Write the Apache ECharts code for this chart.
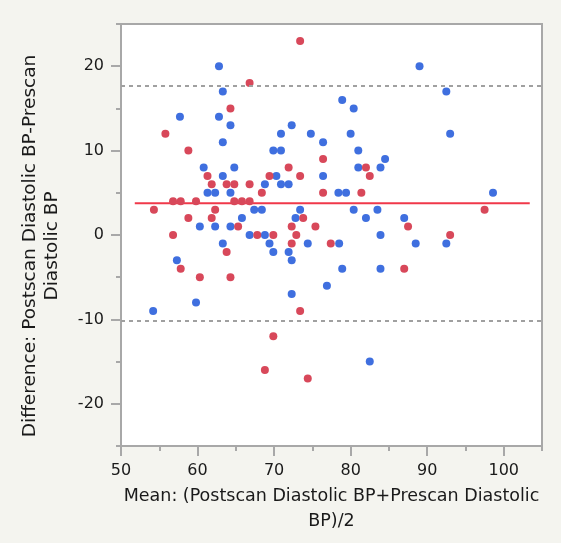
<!DOCTYPE html>
<html>
<head>
<meta charset="utf-8">
<script src="https://cdn.jsdelivr.net/npm/echarts@6/dist/echarts.min.js"></script>
<style>
  html, body { margin: 0; padding: 0; background: #f4f4ef; }
  #main { width: 561px; height: 543px; }
</style>
</head>
<body>
<div id="main"></div>
<script>
// blue points (mean, difference)
var blueX = [62.8, 63.3, 57.7, 62.8, 64.3, 63.3, 70.9, 72.3, 74.8, 76.4, 69.9, 70.9,
	60.8, 64.8, 63.3, 70.3, 76.4, 68.8, 70.9, 71.9, 61.3, 62.3, 64.3, 67.4, 68.4, 73.4,
	65.8, 72.8, 60.3, 62.3, 64.3, 66.8, 68.8, 63.3, 69.4, 74.4, 78.5, 69.9, 71.9, 57.3,
	72.3, 76.9, 72.3, 59.8, 54.2,
	89.0, 92.5, 78.9, 80.4, 80.0, 93.0, 81.0, 84.5, 81.0, 83.9, 78.4, 79.4, 98.6, 80.4,
	83.5, 82.0, 87.0, 83.9, 88.5, 92.5, 78.9, 83.9, 82.5];
var blueY = [20, 17, 14, 14, 13, 11, 12, 13, 12, 11, 10, 10,
	8, 8, 7, 7, 7, 6, 6, 6, 5, 5, 5, 3, 3, 3,
	2, 2, 1, 1, 1, 0, 0, -1, -1, -1, -1, -2, -2, -3,
	-3, -6, -7, -8, -9,
	20, 17, 16, 15, 12, 12, 10, 9, 8, 8, 5, 5, 5, 3,
	3, 2, 2, 0, -1, -1, -4, -4, -15];

// red points
var redX = [73.4, 66.8, 64.3, 55.8, 58.8, 76.4, 71.9, 61.3, 69.4, 73.4, 61.85, 63.8,
	64.8, 66.8, 68.4, 76.4, 56.8, 57.8, 59.8, 64.8, 65.8, 66.8, 54.3, 62.3, 58.8, 61.85,
	73.8, 65.3, 72.3, 75.4, 56.8, 67.8, 69.9, 72.9, 72.3, 77.4, 63.8, 57.8, 60.3, 64.3,
	73.4, 69.9, 68.8, 74.4,
	82.0, 82.5, 81.4, 97.5, 87.5, 93.0, 87.0];
var redY = [23, 18, 15, 12, 10, 9, 8, 7, 7, 7, 6, 6,
	6, 6, 5, 5, 4, 4, 4, 4, 4, 4, 3, 3, 2, 2,
	2, 1, 1, 1, 0, 0, 0, 0, -1, -1, -2, -4, -5, -5,
	-9, -12, -16, -17,
	8, 7, 5, 3, 1, 0, -4];

// mean difference and limits of agreement
var meanDiff = 3.76;
var meanLineX = [51.8, 103.4];
var upperLimit = 17.7;
var lowerLimit = -10.17;

// labelled (major) tick values
var xMajor = [50, 60, 70, 80, 90, 100];
var yMajor = [-20, -10, 0, 10, 20];

function pairs(xs, ys) {
	var out = [];
	for (var i = 0; i < xs.length; i++) out.push([xs[i], ys[i]]);
	return out;
}

var font = '"DejaVu Sans", Verdana, sans-serif';
var axisGrey = '#a8a8a8';
var textColor = '#1a1a1a';

var option = {
	backgroundColor : '#f4f4ef',
	animation : false,
	grid : {
		left : 121,
		top : 24,
		right : 19,
		bottom : 97,
		show : true,
		backgroundColor : '#ffffff',
		borderColor : axisGrey,
		borderWidth : 2
	},
	xAxis : [ {
		type : 'value',
		position : 'bottom',
		min : 50,
		max : 105,
		interval : 5,
		name : 'Mean: (Postscan Diastolic BP+Prescan Diastolic\nBP)/2',
		nameLocation : 'middle',
		nameGap : 36,
		nameTextStyle : {
			fontFamily : font,
			fontSize : 17.5,
			color : textColor,
			lineHeight : 25
		},
		axisLine : { onZero : false, lineStyle : { color : axisGrey, width : 2 } },
		axisTick : { length : 5, lineStyle : { color : axisGrey, width : 2 } },
		axisLabel : {
			margin : 17,
			fontFamily : font,
			fontSize : 16,
			color : textColor,
			customValues : xMajor
		},
		splitLine : { show : false }
	}, {
		// second bottom axis only for the longer ticks at labelled values
		type : 'value',
		position : 'bottom',
		min : 50,
		max : 105,
		axisLine : { show : false, onZero : false },
		axisTick : {
			length : 10,
			customValues : xMajor,
			lineStyle : { color : axisGrey, width : 2 }
		},
		axisLabel : { show : false },
		splitLine : { show : false }
	} ],
	yAxis : [ {
		type : 'value',
		position : 'left',
		min : -25,
		max : 25,
		interval : 5,
		name : 'Difference: Postscan Diastolic BP-Prescan\nDiastolic BP',
		nameLocation : 'middle',
		nameRotate : 90,
		nameGap : 58,
		nameTextStyle : {
			fontFamily : font,
			fontSize : 18.5,
			color : textColor,
			lineHeight : 22,
			padding : [0, 22, 0, 0]
		},
		axisLine : { onZero : false, lineStyle : { color : axisGrey, width : 2 } },
		axisTick : { length : 5, lineStyle : { color : axisGrey, width : 2 } },
		axisLabel : {
			margin : 17,
			fontFamily : font,
			fontSize : 16,
			color : textColor,
			customValues : yMajor
		},
		splitLine : { show : false }
	}, {
		type : 'value',
		position : 'left',
		min : -25,
		max : 25,
		axisLine : { show : false, onZero : false },
		axisTick : {
			length : 10,
			customValues : yMajor,
			lineStyle : { color : axisGrey, width : 2 }
		},
		axisLabel : { show : false },
		splitLine : { show : false }
	} ],
	series : [ {
		name : 'limits',
		type : 'line',
		data : [],
		markLine : {
			silent : true,
			symbol : 'none',
			label : { show : false },
			lineStyle : { color : '#a0a0a0', type : [4, 4], width : 2 },
			data : [ { yAxis : upperLimit }, { yAxis : lowerLimit } ]
		}
	}, {
		name : 'mean',
		type : 'line',
		symbol : 'none',
		lineStyle : { color : '#f0384a', width : 2 },
		data : [ [meanLineX[0], meanDiff], [meanLineX[1], meanDiff] ],
		z : 1
	}, {
		name : 'blue',
		type : 'scatter',
		symbolSize : 8,
		itemStyle : { color : '#3f6fdf', opacity : 1 },
		data : pairs(blueX, blueY),
		z : 3
	}, {
		name : 'red',
		type : 'scatter',
		symbolSize : 8,
		itemStyle : { color : '#d8485a', opacity : 1 },
		data : pairs(redX, redY),
		z : 4
	} ]
};

var myChart = echarts.init(document.getElementById('main'));
myChart.setOption(option);
</script>
</body>
</html>
